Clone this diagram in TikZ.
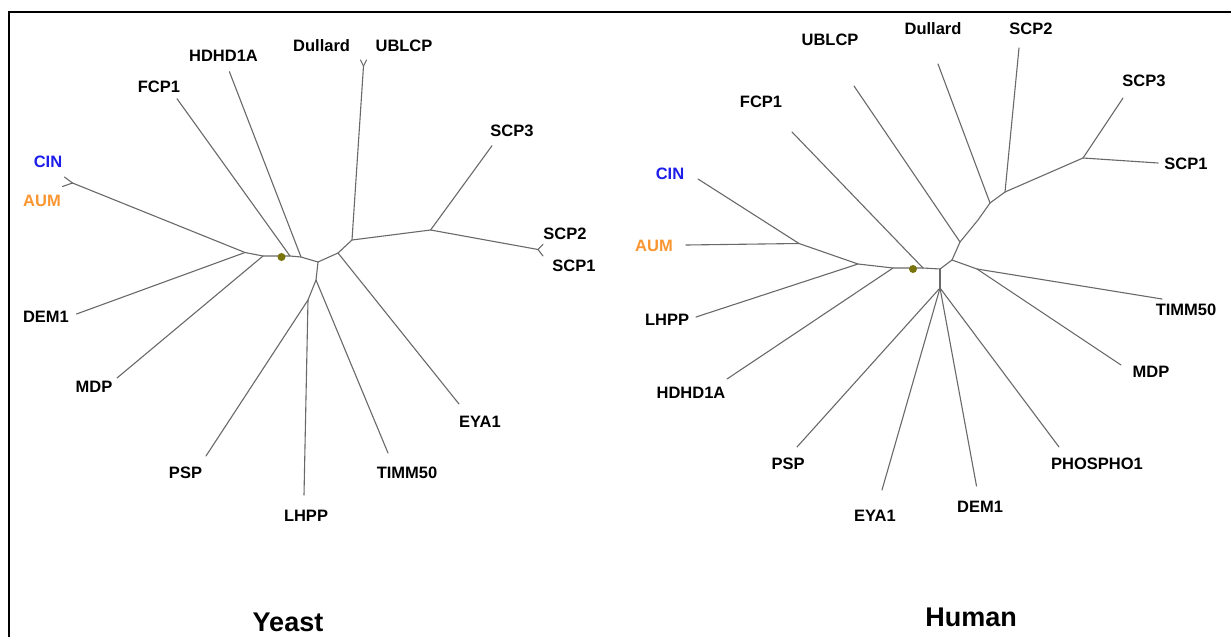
\documentclass[tikz,border=0pt]{standalone}
\usepackage{fontspec}
\setmainfont{Liberation Sans}
\definecolor{treegray}{RGB}{105,105,105}
\definecolor{dotolive}{RGB}{120,115,10}
\definecolor{cinblue}{RGB}{30,30,235}
\definecolor{aumorange}{RGB}{250,150,50}
\begin{document}
\begin{tikzpicture}[x=1pt,y=-1pt,
  br/.style={line width=1.1pt, draw=treegray, line join=round, line cap=round},
  lab/.style={font=\fontsize{16.5}{18}\selectfont\bfseries, inner sep=0pt},
  ttl/.style={font=\fontsize{27}{30}\selectfont\bfseries, inner sep=0pt},
  rootdot/.style={circle, fill=dotolive, inner sep=0pt, minimum size=8pt}]
\useasboundingbox (0,0) rectangle (1231,637);
\fill[white] (0,0) rectangle (1231,637);
\draw[line width=2.5pt] (9,637) -- (9,12) -- (1232,12);

% ---------------- Yeast tree ----------------
\coordinate (yJ1) at (245,252.5);
\coordinate (yJ2) at (263,256);
\coordinate (yFC) at (290,256);
\coordinate (yHD) at (301,257);
\coordinate (yJ3) at (318,262);
\coordinate (yJ4) at (338,253);
\coordinate (yJ5) at (352,240);
\coordinate (yJ6) at (316,280);
\coordinate (yJ7) at (308,300);
\coordinate (ySC) at (430.6,230);
\coordinate (yS21) at (538,249.5);
\coordinate (yUD) at (363.5,66);
\coordinate (yCA) at (72.5,183);
\coordinate (ytCIN) at (64.5,177);
\coordinate (ytAUM) at (62.5,186.5);
\coordinate (ytUB) at (366.5,60);
\coordinate (ytDu) at (360.5,60);
\coordinate (ytHD) at (229.4,71.7);
\coordinate (ytFC) at (177,98.7);
\coordinate (ytSC3) at (492,145.7);
\coordinate (ytSC2) at (543,244.3);
\coordinate (ytSC1) at (543,256);
\coordinate (ytDEM) at (76.5,314);
\coordinate (ytMDP) at (117,378);
\coordinate (ytPSP) at (206,456);
\coordinate (ytLH) at (304,495);
\coordinate (ytTIM) at (388,453);
\coordinate (ytEYA) at (459,404);

\draw[br] (yCA) -- (yJ1) -- (yJ2) -- (yFC) -- (yHD) -- (yJ3) -- (yJ4) -- (yJ5) -- (ySC) -- (yS21);
\draw[br] (yCA) -- (ytCIN);
\draw[br] (yCA) -- (ytAUM);
\draw[br] (yJ1) -- (ytDEM);
\draw[br] (yJ2) -- (ytMDP);
\draw[br] (yFC) -- (ytFC);
\draw[br] (yHD) -- (ytHD);
\draw[br] (yJ3) -- (yJ6) -- (yJ7) -- (ytPSP);
\draw[br] (yJ7) -- (ytLH);
\draw[br] (yJ6) -- (ytTIM);
\draw[br] (yJ4) -- (ytEYA);
\draw[br] (yJ5) -- (yUD);
\draw[br] (yUD) -- (ytUB);
\draw[br] (yUD) -- (ytDu);
\draw[br] (ySC) -- (ytSC3);
\draw[br] (yS21) -- (ytSC2);
\draw[br] (yS21) -- (ytSC1);
\node[rootdot] (ydot) at (281.5,257) {};

\node[lab] (yDullard) at (321.6,46) {Dullard};
\node[lab] (yUBLCP) at (404,46) {UBLCP};
\node[lab] (yHDHD1A) at (223.5,56) {HDHD1A};
\node[lab] (yFCP1) at (159,87) {FCP1};
\node[lab] (ySCP3) at (512,131) {SCP3};
\node[lab, text=cinblue] (yCIN) at (48,162) {CIN};
\node[lab, text=aumorange] (yAUM) at (42,201) {AUM};
\node[lab] (ySCP2) at (565,234) {SCP2};
\node[lab] (ySCP1) at (574,266) {SCP1};
\node[lab] (yDEM1) at (46,317) {DEM1};
\node[lab] (yMDP) at (94,387) {MDP};
\node[lab] (yPSP) at (185.5,473) {PSP};
\node[lab] (yLHPP) at (306,516) {LHPP};
\node[lab] (yTIMM50) at (407,473) {TIMM50};
\node[lab] (yEYA1) at (480,422) {EYA1};
\node[ttl] (yeast) at (288,622) {Yeast};

% ---------------- Human tree ----------------
\coordinate (hH1) at (799,243.5);
\coordinate (hH2) at (858,264);
\coordinate (hH3) at (893,268);
\coordinate (hHF) at (923,268);
\coordinate (hH4) at (940,269);
\coordinate (hH5) at (940,288);
\coordinate (hH6) at (952,260);
\coordinate (hH7) at (960,242);
\coordinate (hHm) at (978,220);
\coordinate (hH8) at (990,203);
\coordinate (hH9) at (1005,192);
\coordinate (hHS) at (1083,158);
\coordinate (hH10) at (977,269);
\coordinate (htCIN) at (698,179);
\coordinate (htAUM) at (686,245);
\coordinate (htLH) at (696,317);
\coordinate (htHD) at (727,379);
\coordinate (htFC) at (792,132);
\coordinate (htUB) at (854,86);
\coordinate (htDu) at (938,64);
\coordinate (htSC2) at (1019,48);
\coordinate (htSC3) at (1123,98);
\coordinate (htSC1) at (1158,163);
\coordinate (htTIM) at (1162,299);
\coordinate (htMDP) at (1121,365);
\coordinate (htPSP) at (797,447);
\coordinate (htEYA) at (882,490);
\coordinate (htDEM) at (976.5,486);
\coordinate (htPH) at (1059,447);

\draw[br] (hH1) -- (hH2) -- (hH3) -- (hHF) -- (hH4) -- (hH6) -- (hH7) -- (hHm) -- (hH8) -- (hH9) -- (hHS);
\draw[br] (htCIN) -- (hH1);
\draw[br] (htAUM) -- (hH1);
\draw[br] (hH2) -- (htLH);
\draw[br] (hH3) -- (htHD);
\draw[br] (hHF) -- (htFC);
\draw[br] (hH4) -- (hH5);
\draw[br] (hH5) -- (htPSP);
\draw[br] (hH5) -- (htEYA);
\draw[br] (hH5) -- (htDEM);
\draw[br] (hH5) -- (htPH);
\draw[br] (hH6) -- (hH10) -- (htTIM);
\draw[br] (hH10) -- (htMDP);
\draw[br] (hH7) -- (htUB);
\draw[br] (hH8) -- (htDu);
\draw[br] (hH9) -- (htSC2);
\draw[br] (hHS) -- (htSC3);
\draw[br] (hHS) -- (htSC1);
\node[rootdot] (hdot) at (913,269) {};

\node[lab] (hDullard) at (933,29) {Dullard};
\node[lab] (hSCP2) at (1031,29) {SCP2};
\node[lab] (hUBLCP) at (830,40) {UBLCP};
\node[lab] (hSCP3) at (1144,81) {SCP3};
\node[lab] (hFCP1) at (761,102) {FCP1};
\node[lab] (hSCP1) at (1186,164) {SCP1};
\node[lab, text=cinblue] (hCIN) at (670,174) {CIN};
\node[lab, text=aumorange] (hAUM) at (654,246) {AUM};
\node[lab] (hTIMM50) at (1186,310) {TIMM50};
\node[lab] (hLHPP) at (667,320) {LHPP};
\node[lab] (hHDHD1A) at (691,393) {HDHD1A};
\node[lab] (hMDP) at (1151,372) {MDP};
\node[lab] (hPSP) at (788,464) {PSP};
\node[lab] (hPHOSPHO1) at (1097,464) {PHOSPHO1};
\node[lab] (hDEM1) at (980,507) {DEM1};
\node[lab] (hEYA1) at (875,516) {EYA1};
\node[ttl] (human) at (971,617) {Human};
\end{tikzpicture}
\end{document}
